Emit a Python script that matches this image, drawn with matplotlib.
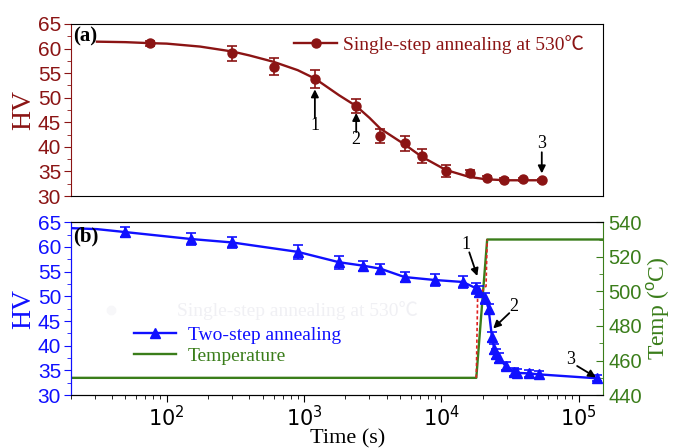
import matplotlib
matplotlib.use('Agg')
from matplotlib import pyplot as plt
from matplotlib.ticker import MultipleLocator, LogLocator, LogFormatterMathtext, NullFormatter

plt.rcParams['mathtext.fontset'] = 'custom'
plt.rcParams['mathtext.rm'] = 'Liberation Sans'
plt.rcParams['mathtext.it'] = 'Liberation Sans:italic'

# (a) single-step annealing at 530 C
t_a = [75, 300, 600, 1200, 2400, 3600, 5400, 7200, 10800, 16200, 21600, 28800, 39600, 54000]
hv_a = [61.1, 59.0, 56.3, 53.8, 48.3, 42.2, 40.7, 38.2, 35.1, 34.6, 33.7, 33.3, 33.4, 33.2]
err_a = [0.5, 1.6, 1.7, 1.9, 1.5, 1.4, 1.5, 1.4, 1.3, 0.6, 0.3, 0.3, 0.3, 0.3]
fit_t = [31, 50, 75, 100, 175, 300, 400, 600, 900, 1200, 1800, 2400, 3000, 3600, 5400, 7200, 10800, 15900, 21100, 30000, 54000]
fit_hv = [61.4, 61.3, 61.1, 61.0, 60.4, 59.4, 58.6, 57.3, 55.6, 53.9, 50.5, 48.3, 45.9, 43.7, 40.5, 38.0, 35.3, 33.9, 33.4, 33.2, 33.2]

# (b) two-step annealing
t_b = [50, 150, 300, 900, 1800, 2700, 3600, 5400, 9000, 14400, 18000, 18700, 20900, 22100,
       23400, 24300, 25200, 26400, 29400, 33900, 35900, 43600, 51600, 137000]
hv_b = [63.0, 61.6, 60.9, 59.0, 56.9, 56.2, 55.6, 53.9, 53.3, 52.9, 51.6, 50.9, 49.6, 47.5,
        41.8, 39.4, 38.4, 37.6, 35.9, 34.7, 34.5, 34.4, 34.2, 33.4]
err_b = [1.0, 1.2, 1.2, 1.4, 1.3, 1.0, 1.0, 1.1, 1.2, 1.2, 1.1, 1.1, 1.1, 1.0,
         1.0, 1.0, 1.0, 1.0, 0.9, 0.8, 0.8, 0.7, 0.7, 0.6]
line_t0 = [20, 31]
line_hv0 = [63.8, 63.6]

temp_t = [20, 18000, 21600, 150000]
temp_c = [450, 450, 530, 530]
red_t = [18000, 18400, 21200, 21600]
red_c = [450, 497, 503, 530]

red = '#8b1414'
blue = '#1010ff'
green = '#3a7d1a'
serif = ['Liberation Serif', 'Noto Sans CJK SC', 'DejaVu Sans']
sans = 'Liberation Sans'


def arrow(ax, label, head, tail, txt):
    ax.annotate('', xy=head, xytext=tail,
                arrowprops=dict(arrowstyle='-|>', color='k', lw=1.3, mutation_scale=11,
                                shrinkA=0, shrinkB=0))
    ax.text(txt[0], txt[1], label, ha='center', va='center', family=serif, fontsize=13)


fig = plt.figure(figsize=(6.81, 4.48), dpi=100)
ax1 = fig.add_axes([0.104, 0.5625, 0.781, 0.384])
ax2 = fig.add_axes([0.104, 0.118, 0.781, 0.386])

# ---- panel (a)
ax1.plot(fit_t, fit_hv, color=red, lw=1.7, zorder=2)
ax1.errorbar(t_a, hv_a, yerr=err_a, fmt='o', color=red, ms=6.5, capsize=3.5, elinewidth=1.2,
             capthick=1.2, zorder=3)
ax1.plot([], [], '-o', color=red, ms=6.5, lw=1.7, label='Single-step annealing at 530\u2103')
ax1.set_xscale('log')
ax1.set_xlim(20, 150000)
ax1.set_ylim(30, 65)
ax1.yaxis.set_major_locator(MultipleLocator(5))
ax1.yaxis.set_minor_locator(MultipleLocator(2.5))
ax1.tick_params(axis='y', which='both', colors=red, labelsize=15, direction='out', pad=2)
ax1.tick_params(axis='y', which='major', length=5)
ax1.tick_params(axis='y', which='minor', length=3)
ax1.tick_params(axis='x', which='both', bottom=False, labelbottom=False)
for lab in ax1.get_yticklabels():
    lab.set_family(sans)
ax1.spines['left'].set_color(red)
ax1.set_ylabel('HV', color=red, family=serif, fontsize=20, labelpad=1)
ax1.text(0.004, 0.93, '(a)', transform=ax1.transAxes, family=serif, fontweight='bold', fontsize=15, va='center')
ax1.legend(loc='upper right', frameon=False, prop={'family': serif, 'size': 14},
           labelcolor=red, handlelength=2.2, handletextpad=0.3, borderaxespad=0.15,
           bbox_to_anchor=(0.985, 1.0))

arrow(ax1, '1', (1200, 51.7), (1200, 45.9), (1200, 44.3))
arrow(ax1, '2', (2400, 46.9), (2400, 43.0), (2400, 41.4))
arrow(ax1, '3', (54000, 34.6), (54000, 38.9), (54000, 40.6))

# ---- panel (b)
ax3 = ax2.twinx()
ax3.plot(temp_t, temp_c, color=green, lw=1.7, zorder=1)
ax3.plot(red_t, red_c, color='#e02020', lw=1.2, ls=(0, (2, 1.5)), zorder=2)
ax3.set_ylim(440, 540)
ax3.yaxis.set_major_locator(MultipleLocator(20))
ax3.yaxis.set_minor_locator(MultipleLocator(10))
ax3.tick_params(axis='y', which='both', colors=green, labelsize=14.5, direction='in', pad=4)
ax3.tick_params(axis='y', which='major', length=5)
ax3.tick_params(axis='y', which='minor', length=3)
for lab in ax3.get_yticklabels():
    lab.set_family(sans)
ax3.spines['right'].set_color(green)
ax3.spines['left'].set_color(blue)
ax3.set_ylabel('Temp ($^{\\rm o}$C)', color=green, family=serif, fontsize=17, labelpad=2)

ax2.set_zorder(ax3.get_zorder() + 1)
ax2.patch.set_visible(False)

# faint ghost of an old legend entry
ax2.plot([0.075], [0.49], 'o', color='#f7f7f9', ms=6, transform=ax2.transAxes)
ax2.text(0.2, 0.49, 'Single-step annealing at 530\u2103', transform=ax2.transAxes,
         family=serif, fontsize=14, color='#f0f0f4', va='center')

ax2.plot(line_t0 + t_b[:1], line_hv0 + hv_b[:1], color=blue, lw=1.7)
ax2.errorbar(t_b, hv_b, yerr=err_b, fmt='-^', color=blue, ms=7.5, lw=1.7, capsize=3.5,
             elinewidth=1.2, capthick=1.2)
ax2.set_xscale('log')
ax2.set_xlim(20, 150000)
ax2.set_ylim(30, 65)
ax2.yaxis.set_major_locator(MultipleLocator(5))
ax2.yaxis.set_minor_locator(MultipleLocator(2.5))
ax2.tick_params(axis='y', which='both', colors=blue, labelsize=15, direction='out', pad=2)
ax2.tick_params(axis='y', which='major', length=5)
ax2.tick_params(axis='y', which='minor', length=3)
ax2.xaxis.set_major_locator(LogLocator(base=10))
ax2.xaxis.set_minor_locator(LogLocator(base=10, subs=range(2, 10)))
ax2.xaxis.set_major_formatter(LogFormatterMathtext())
ax2.xaxis.set_minor_formatter(NullFormatter())
ax2.tick_params(axis='x', which='both', direction='out', labelsize=15, pad=2)
ax2.tick_params(axis='x', which='major', length=5)
ax2.tick_params(axis='x', which='minor', length=3)
for lab in ax2.get_yticklabels():
    lab.set_family(sans)
ax2.spines['left'].set_color(blue)
ax2.spines['right'].set_visible(False)
ax2.set_ylabel('HV', color=blue, family=serif, fontsize=20, labelpad=1)
ax2.set_xlabel('Time (s)', family=serif, fontsize=16, labelpad=0)
ax2.xaxis.set_label_coords(0.52, -0.195)
ax2.text(0.004, 0.92, '(b)', transform=ax2.transAxes, family=serif, fontweight='bold', fontsize=15, va='center')

h1, = ax2.plot([], [], '-^', color=blue, ms=7.5, lw=1.7)
h2, = ax2.plot([], [], '-', color=green, lw=1.7)
leg = ax2.legend([h1, h2], ['Two-step annealing', 'Temperature'], loc='lower left',
                 bbox_to_anchor=(0.085, 0.075), frameon=False, prop={'family': serif, 'size': 14},
                 handlelength=2.2, handletextpad=0.6, labelspacing=0.15)
for txt, c in zip(leg.get_texts(), [blue, green]):
    txt.set_color(c)

arrow(ax2, '1', (18300, 54.1), (16000, 58.9), (15200, 60.4))
arrow(ax2, '2', (23900, 43.5), (31300, 46.6), (33600, 47.9))
arrow(ax2, '3', (134000, 33.6), (97700, 35.9), (88300, 37.2))

fig.savefig('out.png', dpi=100)
